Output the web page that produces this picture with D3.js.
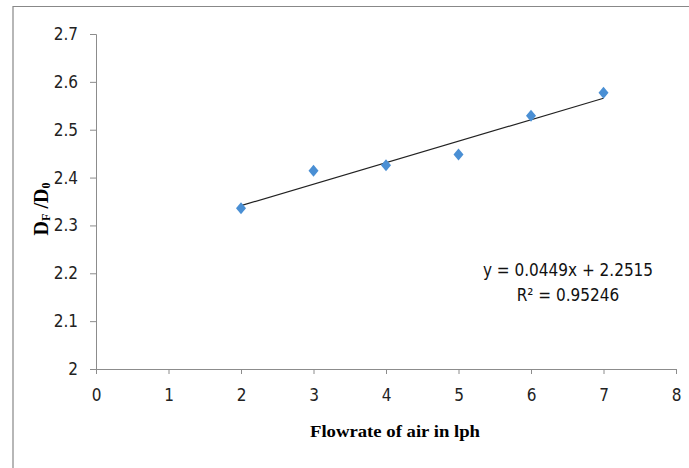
<!DOCTYPE html>
<html>
<head>
<meta charset="utf-8">
<script src="https://cdn.jsdelivr.net/npm/d3@7"></script>
<style>
  body { margin: 0; background: #fff; }
</style>
</head>
<body>
<div id="chart"></div>
<script>
// data
const flowrate = [2, 3, 4, 5, 6, 7];
const ratio = [2.336, 2.414, 2.426, 2.448, 2.529, 2.577];
const xTicks = [0, 1, 2, 3, 4, 5, 6, 7, 8];
const yTicks = [2, 2.1, 2.2, 2.3, 2.4, 2.5, 2.6, 2.7];
const trendSlope = 0.0449, trendIntercept = 2.2515;
const equationLines = ["y = 0.0449x + 2.2515", "R² = 0.95246"];

const W = 689, H = 468;
const margin = { top: 34, right: 13, bottom: 99, left: 96 };
const narrow = "'DejaVu Sans Condensed', 'Liberation Sans Narrow', 'Noto Sans', sans-serif";

const svg = d3.select("#chart").append("svg")
  .attr("width", W).attr("height", H);

// outer frame (top and left edges only visible)
svg.append("path")
  .attr("d", "M13,468 V6.5 H689")
  .attr("fill", "none").attr("stroke", "#888").attr("stroke-width", 1.2);

const x = d3.scaleLinear().domain([0, 8]).range([margin.left, W - margin.right]);
const y = d3.scaleLinear().domain([2, 2.7]).range([H - margin.bottom, margin.top]);

// axes
const xAxis = svg.append("g")
  .attr("transform", "translate(0," + (H - margin.bottom) + ")")
  .call(d3.axisBottom(x).tickValues(xTicks).tickFormat(d3.format("d")).tickSize(5).tickPadding(15));
const yAxis = svg.append("g")
  .attr("transform", "translate(" + margin.left + ",0)")
  .call(d3.axisLeft(y).tickValues(yTicks).tickFormat(d => d === 2 ? "2" : d3.format(".1f")(d)).tickSize(6).tickPadding(12));
[xAxis, yAxis].forEach(g => {
  g.selectAll("path, line").attr("stroke", "#8c8c8c");
  g.selectAll("text")
    .style("font-family", narrow)
    .style("font-size", "17px")
    .attr("fill", "#222");
});

// trendline
const trend = d3.extent(flowrate).map(v => [v, trendIntercept + trendSlope * v]);
svg.append("path")
  .datum(trend)
  .attr("d", d3.line().x(d => x(d[0])).y(d => y(d[1])))
  .attr("stroke", "#222").attr("stroke-width", 1.2).attr("fill", "none");

// diamond markers
const diamond = "M0,-6 L5,0 L0,6 L-5,0 Z";
svg.selectAll(".pt")
  .data(flowrate.map((v, i) => [v, ratio[i]]))
  .enter().append("path")
  .attr("class", "pt")
  .attr("d", diamond)
  .attr("transform", d => "translate(" + x(d[0]) + "," + y(d[1]) + ")")
  .attr("fill", "#4a8fd4");

// equation
svg.selectAll(".eq")
  .data(equationLines)
  .enter().append("text")
  .attr("x", 568).attr("y", (d, i) => 276 + i * 25)
  .attr("text-anchor", "middle")
  .style("font-family", narrow)
  .style("font-size", "17px").attr("fill", "#111")
  .text(d => d);

// axis titles
svg.append("text")
  .attr("x", 395).attr("y", 437)
  .attr("text-anchor", "middle")
  .attr("textLength", 170).attr("lengthAdjust", "spacingAndGlyphs")
  .style("font-family", "'Liberation Serif', 'Times New Roman', serif")
  .style("font-weight", "bold").style("font-size", "17px")
  .text("Flowrate of air in lph");

const yl = svg.append("text")
  .attr("transform", "translate(48,209) rotate(-90)")
  .attr("text-anchor", "middle")
  .style("font-family", "'Liberation Serif', 'Times New Roman', serif")
  .style("font-weight", "bold").style("font-size", "20px");
yl.append("tspan").text("D");
yl.append("tspan").attr("dy", 2).style("font-size", "12px").text("F");
yl.append("tspan").attr("dy", -2).text(" /D");
yl.append("tspan").attr("dy", 2).style("font-size", "12px").text("0");
</script>
</body>
</html>
